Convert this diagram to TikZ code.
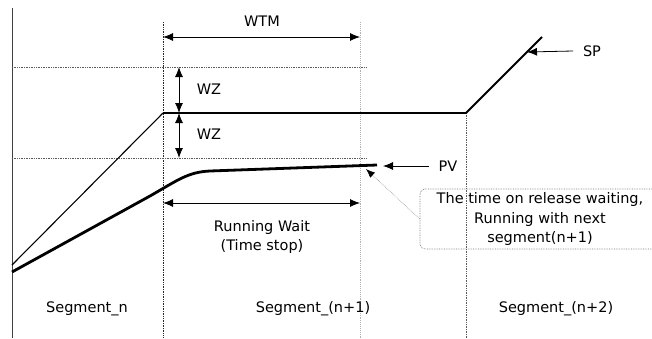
\documentclass[tikz,border=0pt]{standalone}
\usepackage{fontspec}
\setmainfont{DejaVu Sans}
\usetikzlibrary{positioning,arrows.meta,calc}

\begin{document}
\begin{tikzpicture}[
  x=1pt, y=-1pt,
  font=\fontsize{14.5}{19.5}\selectfont,
  guide/.style={densely dotted, line width=0.7pt, black!65},
  faint/.style={densely dotted, line width=0.9pt, black!30},
  dim/.style={{Latex[length=10pt,width=8pt]}-{Latex[length=10pt,width=8pt]}, line width=0.8pt},
  ptr/.style={-{Latex[length=10pt,width=8pt]}, line width=0.8pt},
  tag/.style={inner sep=0pt, outer xsep=10pt},
  note/.style={draw=black!55, densely dotted, line width=0.7pt, rounded corners=5pt, minimum width=240pt, minimum height=60pt, align=center, inner sep=0pt},
  sp/.style={line width=1.8pt},
  pv/.style={line width=2.8pt}
]
\useasboundingbox (0,0) rectangle (652,338);

% axis and guides
\draw[line width=0.9pt, black!75] (12,8) -- (12,338);
\draw[guide, black!85] (163,22) -- (163,338);
\draw[faint] (360,22) -- (360,338);
\draw[guide] (466,113) -- (466,338);
\draw[guide] (12,67) -- (366,67);
\draw[guide] (12,158) -- (366,158);

% SP profile
\coordinate (s0) at (12,265);
\coordinate (s1) at (163,113);
\coordinate (s2) at (466,113);
\coordinate (s3) at (542,37);
\draw[line width=1.1pt] (s0) -- (s1);
\draw[sp] (s1) -- (s2) -- (s3);

% PV profile
\coordinate (p0) at (12,272);
\coordinate (p4) at (377,165);
\draw[pv] (p0) -- (150,196) .. controls (178,180) and (188,172) .. (210,171) -- (p4);

% labels
\node[tag] (sp) at (592,51) {SP};
\coordinate (sphit) at (527,52);
\draw[ptr] (sp.west) -- (sphit);

\node[tag] (pv) at (448,166) {PV};
\coordinate (pvhit) at (383,166);
\draw[ptr] (pv.west) -- (pvhit);

% WTM
\coordinate (w0) at (163,37);
\coordinate (w1) at (360,37);
\draw[dim] (w0) -- (w1);
\node (wtm) at (262,21) {WTM};

% WZ
\coordinate (z0) at (179,67);
\coordinate (z1) at (179,113);
\coordinate (z2) at (179,158);
\draw[dim] (z0) -- (z1);
\draw[dim] (z1) -- (z2);
\node (wz1) at (209,89) {WZ};
\node (wz2) at (209,134) {WZ};

% running wait
\coordinate (r0) at (163,203);
\coordinate (r1) at (360,203);
\draw[dim] (r0) -- (r1);
\node[align=center] (wait) at (262,237) {Running Wait\\(Time stop)};

% release note
\node[note] (rel) at (540,219) {The time on release waiting,\\Running with next\\segment(n+1)};
\coordinate (pvend) at (366,169);
\draw[densely dotted, black!45, line width=0.6pt, -{Latex[length=9pt,width=7pt,black]}] (rel.west) -- (pvend);

% segments
\node (segn) at (87,309) {Segment\_n};
\node (segn1) at (313,309) {Segment\_(n+1)};
\node (segn2) at (556,309) {Segment\_(n+2)};
\end{tikzpicture}
\end{document}
